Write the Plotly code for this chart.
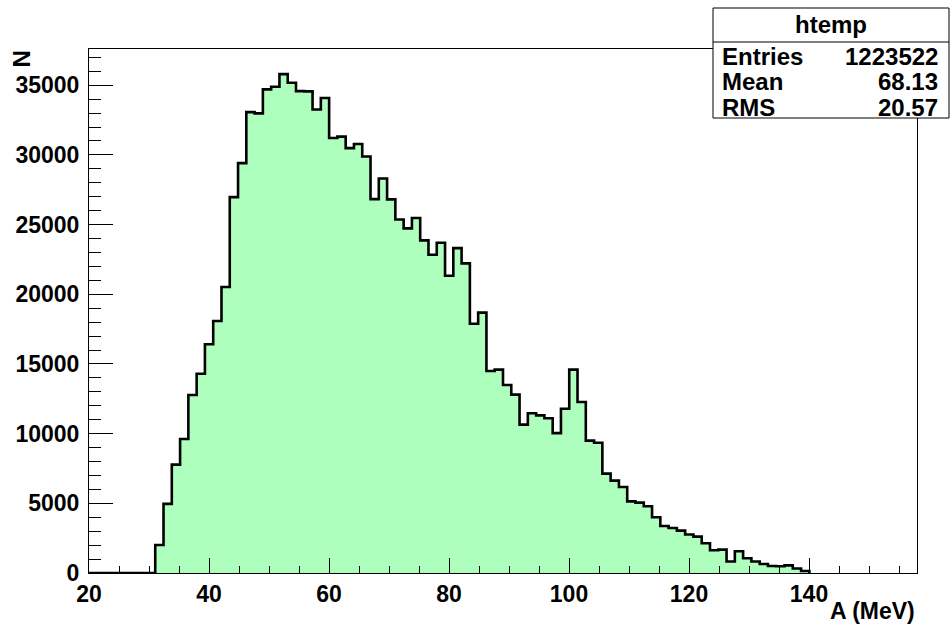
import plotly.graph_objects as go

# ---- data ----
x_min = 20.0
x_max = 158.0
n_bins = 100
counts = [
    0, 0, 0, 0, 0, 0, 0, 0, 2010, 4960,
    7780, 9610, 12770, 14300, 16410, 18080, 20520, 26970, 29410, 33070,
    32980, 34700, 34890, 35800, 35180, 34580, 34560, 33260, 34080, 31210,
    31310, 30490, 30780, 29890, 26830, 28310, 26810, 25370, 24730, 25470,
    23870, 22840, 23700, 21330, 23310, 22220, 17890, 18680, 14490, 14590,
    13490, 12800, 10650, 11460, 11310, 11100, 10040, 11790, 14590, 12270,
    9500, 9350, 7130, 6630, 6170, 5140, 5050, 4790, 4000, 3370,
    3230, 3040, 2760, 2610, 2130, 1630, 1680, 820, 1560, 1060,
    820, 650, 500, 480, 550, 320, 140, 0, 0, 0,
    0, 0, 0, 0, 0, 0, 0, 0, 0, 0,
]
y_max = 37600
x_title = "A (MeV)"
y_title = "N"
hist_name = "htemp"
stat_labels = ["Entries", "Mean", "RMS"]
stat_values = ["1223522", "68.13", "20.57"]

# ---- geometry ----
W, H = 951, 626
ML, MR, MT, MB = 89, 34, 49, 53
PW = W - ML - MR
PH = H - MT - MB


def px(xp):
    return (xp - ML) / PW


def py(yp):
    return (H - MB - yp) / PH


bw = (x_max - x_min) / n_bins
edges = [x_min + i * bw for i in range(n_bins + 1)]
last = max(i for i, c in enumerate(counts) if c > 0)
xs = edges[: last + 2]
ys = counts[: last + 1] + [0]

FONT = "Liberation Sans"
fill_col = "rgb(174,255,190)"

fig = go.Figure()
fig.add_trace(go.Scatter(
    x=xs, y=ys, mode="lines", line=dict(shape="hv", color="black", width=2.6),
    fill="tozeroy", fillcolor=fill_col, hoverinfo="skip", showlegend=False,
))

axis_common = dict(
    showgrid=False, zeroline=False, showline=True, linecolor="black", linewidth=1,
    mirror=True, ticks="inside", tickcolor="black", tickwidth=1,
    tickfont=dict(family=FONT, size=23, color="black", weight="bold"),
)
fig.update_xaxes(
    range=[x_min, x_max], tick0=20, dtick=20, ticklen=15,
    minor=dict(dtick=5, ticks="inside", ticklen=7, tickcolor="black", tickwidth=1),
    ticklabelstandoff=0,
    **axis_common,
)
fig.update_yaxes(
    range=[0, y_max], tick0=0, dtick=5000, ticklen=24, tickformat="d",
    minor=dict(dtick=1000, ticks="inside", ticklen=12, tickcolor="black", tickwidth=1),
    ticklabelstandoff=4,
    **axis_common,
)

annots = []
annots.append(dict(text=x_title, x=1, xref="paper", xanchor="right", y=py(611), yref="paper",
                   yanchor="middle", showarrow=False,
                   font=dict(family=FONT, size=23, color="black", weight="bold")))
annots.append(dict(text=y_title, x=px(21), xref="paper", xanchor="center", y=1, yref="paper",
                   yanchor="top", textangle=-90, showarrow=False,
                   font=dict(family=FONT, size=24, color="black", weight="bold")))

# stats box
bx0, bx1, by0, by1, bsep = 713, 949, 8, 118, 42
shapes = [
    dict(type="rect", xref="paper", yref="paper", x0=px(bx0), x1=px(bx1), y0=py(by1), y1=py(by0),
         fillcolor="white", line=dict(color="black", width=1), layer="above"),
    dict(type="line", xref="paper", yref="paper", x0=px(bx0), x1=px(bx1), y0=py(bsep), y1=py(bsep),
         line=dict(color="black", width=1), layer="above"),
]
box_font = dict(family=FONT, size=24, color="black", weight="bold")
annots.append(dict(text=hist_name, x=px((bx0 + bx1) / 2), xref="paper", xanchor="center",
                   y=py((by0 + bsep) / 2), yref="paper", yanchor="middle", showarrow=False, font=box_font))
row_h = (by1 - bsep) / len(stat_labels)
for i, (lab, val) in enumerate(zip(stat_labels, stat_values)):
    yc = bsep + row_h * (i + 0.5) + 2
    annots.append(dict(text=lab, x=px(bx0 + 7), xref="paper", xanchor="left", y=py(yc), yref="paper",
                       yanchor="middle", showarrow=False, font=box_font))
    annots.append(dict(text=val, x=px(bx1 - 9), xref="paper", xanchor="right", y=py(yc), yref="paper",
                       yanchor="middle", showarrow=False, font=box_font))

fig.update_layout(
    width=W, height=H, margin=dict(l=ML, r=MR, t=MT, b=MB, pad=0),
    paper_bgcolor="white", plot_bgcolor="white",
    annotations=annots, shapes=shapes, showlegend=False,
    font=dict(family=FONT, color="black"),
)

fig.write_html("out.html")
